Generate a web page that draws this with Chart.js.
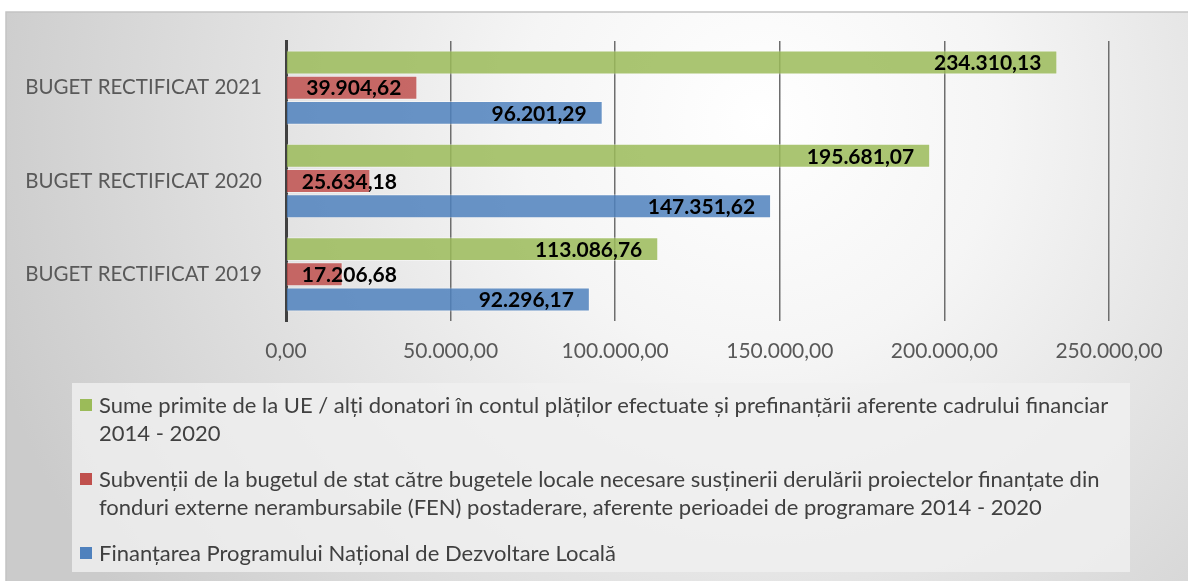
<!DOCTYPE html>
<html>
<head>
<meta charset="utf-8">
<script src="https://cdn.jsdelivr.net/npm/chart.js"></script>
<style>
  body { margin: 0; background: #fff; }
  #wrap { position: relative; width: 1188px; height: 581px; overflow: hidden; }
  #legend { position: absolute; left: 72px; top: 383px; width: 1058px; height: 189px;
            background: rgba(240,240,240,0.8); font-family: Lato; font-size: 22px; color: #404040;
            box-sizing: border-box; padding-top: 8px; }
  .item { position: relative; padding-left: 27px; line-height: 28px; margin-bottom: 18px; }
  .box { position: absolute; left: 8px; top: 8px; width: 12px; height: 12px; }
</style>
</head>
<body>
<div id="wrap">
  <canvas id="budget-chart" width="1188" height="581"></canvas>
  <div id="legend"></div>
</div>
<script>
// categories and series
const categories = ['BUGET RECTIFICAT 2021', 'BUGET RECTIFICAT 2020', 'BUGET RECTIFICAT 2019'];
const seriesNames = [
  'Sume primite de la UE / alți donatori în contul plăților efectuate și prefinanțării aferente cadrului financiar 2014 - 2020',
  'Subvenții de la bugetul de stat către bugetele locale necesare susținerii derulării proiectelor finanțate din fonduri externe nerambursabile (FEN) postaderare, aferente perioadei de programare 2014 - 2020',
  'Finanțarea Programului Național de Dezvoltare Locală'
];
const sumeUE = [234310.13, 195681.07, 113086.76];
const subventii = [39904.62, 25634.18, 17206.68];
const pndl = [96201.29, 147351.62, 92296.17];
const xTicks = [0, 50000, 100000, 150000, 200000, 250000];

const fills = ['rgba(155,187,89,0.85)', 'rgba(192,80,77,0.85)', 'rgba(79,129,189,0.85)'];
const swatches = ['#9bbb59', '#c0504d', '#4f81bd'];

function fmt(v) {
  var p = v.toFixed(2).split('.');
  return p[0].replace(/\B(?=(\d{3})+(?!\d))/g, '.') + ',' + p[1];
}

// gradient background + frame
const bgPlugin = {
  id: 'bg',
  beforeDraw(chart) {
    var c = chart.ctx;
    c.save();
    c.fillStyle = '#fff';
    c.fillRect(0, 0, chart.width, chart.height);
    var g = c.createRadialGradient(760, 120, 0, 760, 120, 800);
    g.addColorStop(0, '#ffffff');
    g.addColorStop(0.3, '#f5f5f5');
    g.addColorStop(1, '#cbcbcb');
    c.fillStyle = g;
    c.fillRect(6, 12, chart.width, chart.height);
    c.strokeStyle = '#c4c4c4';
    c.lineWidth = 1.5;
    c.beginPath();
    c.moveTo(6, chart.height + 5);
    c.lineTo(6, 12);
    c.lineTo(chart.width + 5, 12);
    c.stroke();
    c.restore();
  }
};

// value labels: inside end of bar, pushed right of the axis when bar is short
const valueLabels = {
  id: 'valueLabels',
  afterDatasetsDraw(chart) {
    var c = chart.ctx;
    c.save();
    c.font = 'bold 21px Lato';
    c.fillStyle = '#000';
    c.textBaseline = 'middle';
    c.textAlign = 'left';
    chart.data.datasets.forEach(function(ds, i) {
      chart.getDatasetMeta(i).data.forEach(function(bar, j) {
        var txt = fmt(ds.data[j]);
        var w = c.measureText(txt).width;
        var left = bar.x - 16 - w;
        if (left < bar.base + 15) left = bar.base + 15;
        c.fillText(txt, left, bar.y + 1);
      });
    });
    c.restore();
  }
};

function draw() {
  Chart.defaults.font.family = 'Lato';

  var chart = new Chart(document.getElementById('budget-chart').getContext('2d'), {
    type: 'bar',
    data: {
      labels: categories,
      datasets: [
        { label: seriesNames[0], data: sumeUE, backgroundColor: fills[0] },
        { label: seriesNames[1], data: subventii, backgroundColor: fills[1] },
        { label: seriesNames[2], data: pndl, backgroundColor: fills[2] }
      ]
    },
    options: {
      indexAxis: 'y',
      responsive: false,
      animation: false,
      datasets: { bar: { categoryPercentage: 0.81, barPercentage: 0.95, borderWidth: 1, borderColor: 'rgba(255,255,255,0.45)' } },
      layout: { padding: { top: 41, right: 79, bottom: 200, left: 0 } },
      plugins: { legend: { display: false }, tooltip: { enabled: false } },
      scales: {
        x: {
          min: 0, max: 250000,
          afterBuildTicks: function(s) { s.ticks = xTicks.map(function(v) { return { value: v }; }); },
          afterFit: function(s) { s.height = 60; },
          grid: { color: function(ctx) { return ctx.tick && ctx.tick.value === 0 ? 'rgba(0,0,0,0)' : '#6e6e6e'; },
                  lineWidth: 1.5, drawTicks: false },
          border: { display: false },
          ticks: { padding: 18, color: '#595959', font: { size: 21 }, callback: function(v) { return fmt(v); } }
        },
        y: {
          afterFit: function(s) { s.width = 286; },
          grid: { display: false, drawTicks: false },
          border: { display: true, color: '#404040', width: 3 },
          ticks: { padding: 24, color: '#595959', font: { size: 20.5 } }
        }
      }
    },
    plugins: [bgPlugin, valueLabels]
  });

  // legend built from the datasets, wraps like the original
  var leg = document.getElementById('legend');
  chart.data.datasets.forEach(function(ds, i) {
    var item = document.createElement('div');
    item.className = 'item';
    var box = document.createElement('span');
    box.className = 'box';
    box.style.background = swatches[i];
    item.appendChild(box);
    item.appendChild(document.createTextNode(ds.label));
    leg.appendChild(item);
  });
}

Promise.all([document.fonts.load('21px Lato'), document.fonts.load('bold 21px Lato')])
  .then(draw, draw);
</script>
</body>
</html>
